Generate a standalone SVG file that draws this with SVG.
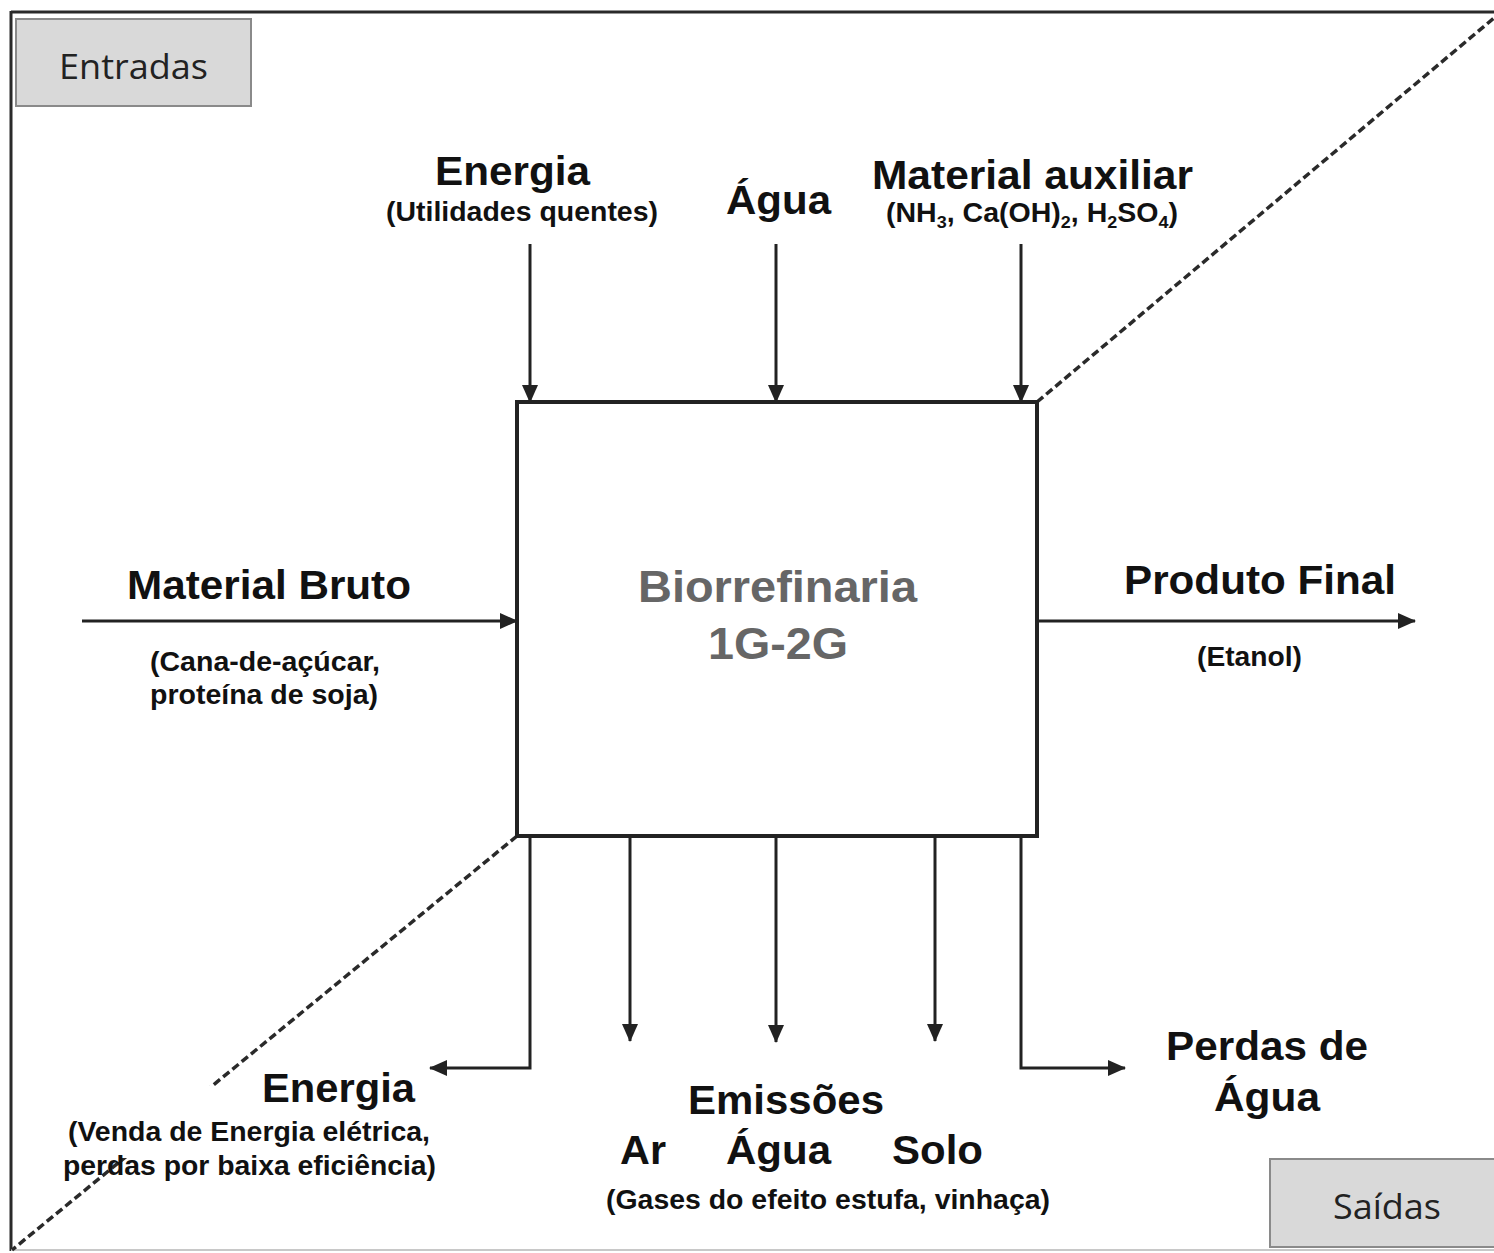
<svg xmlns="http://www.w3.org/2000/svg" width="1494" height="1253" viewBox="0 0 1494 1253">
  <style>
    text { font-family: "Liberation Sans", Arial, sans-serif; fill: #111; }
    .h { font-size: 41px; font-weight: bold; text-anchor: middle; }
    .s { font-size: 27px; font-weight: bold; text-anchor: middle; }
    .tag { font-family: "Open Sans", "Noto Sans", sans-serif; font-size: 34px; text-anchor: middle; fill: #222; }
    .tagbox { fill: #d9d9d9; stroke: #8a8a8a; stroke-width: 2; }
    .conn { fill: none; stroke: #222; stroke-width: 3; }
    .dash { fill: none; stroke: #2a2a2a; stroke-width: 3.5; stroke-dasharray: 8 4; }
  </style>
  <defs>
    <marker id="ah" markerUnits="userSpaceOnUse" markerWidth="18" markerHeight="16" refX="17" refY="8" orient="auto">
      <path d="M0,0 L18,8 L0,16 Z" fill="#222"/>
    </marker>
  </defs>
  <rect x="0" y="0" width="1494" height="1253" fill="#fff"/>

  <!-- outer frame -->
  <g id="frame">
    <line x1="11" y1="12" x2="1494" y2="12" stroke="#2a2a2a" stroke-width="3"/>
    <line x1="11" y1="11" x2="11" y2="1251" stroke="#2a2a2a" stroke-width="3"/>
    <line x1="11" y1="1250" x2="1494" y2="1250" stroke="#c8c8c8" stroke-width="2"/>
  </g>

  <!-- dashed diagonal -->
  <g id="diagonal">
    <line class="dash" x1="1037" y1="402" x2="1494" y2="18"/>
    <line class="dash" x1="517" y1="836" x2="12" y2="1250"/>
  </g>

  <g id="entradas">
    <rect class="tagbox" x="16" y="19" width="235" height="87"/>
    <text class="tag" x="133.5" y="79" textLength="149" lengthAdjust="spacingAndGlyphs">Entradas</text>
  </g>
  <g id="saidas">
    <rect class="tagbox" x="1270" y="1159" width="230" height="88"/>
    <text class="tag" x="1387" y="1219" textLength="108" lengthAdjust="spacingAndGlyphs">Saídas</text>
  </g>

  <!-- connectors -->
  <g id="connectors">
    <line class="conn" x1="530" y1="244" x2="530" y2="402" marker-end="url(#ah)"/>
    <line class="conn" x1="776" y1="244" x2="776" y2="402" marker-end="url(#ah)"/>
    <line class="conn" x1="1021" y1="244" x2="1021" y2="402" marker-end="url(#ah)"/>
    <line class="conn" x1="82" y1="621" x2="517" y2="621" marker-end="url(#ah)"/>
    <line class="conn" x1="1037" y1="621" x2="1415" y2="621" marker-end="url(#ah)"/>
    <path class="conn" d="M530,836 V1068 H430" marker-end="url(#ah)"/>
    <line class="conn" x1="630" y1="836" x2="630" y2="1041" marker-end="url(#ah)"/>
    <line class="conn" x1="776" y1="836" x2="776" y2="1042" marker-end="url(#ah)"/>
    <line class="conn" x1="935" y1="836" x2="935" y2="1041" marker-end="url(#ah)"/>
    <path class="conn" d="M1021,836 V1068 H1125" marker-end="url(#ah)"/>
  </g>

  <!-- central node -->
  <g id="biorrefinaria">
    <rect x="517" y="402" width="520" height="434" fill="#fff" stroke="#222" stroke-width="4"/>
    <text x="777.5" y="602" font-size="44" font-weight="bold" text-anchor="middle" style="fill:#666" textLength="279" lengthAdjust="spacingAndGlyphs">Biorrefinaria</text>
    <text x="778" y="659" font-size="44" font-weight="bold" text-anchor="middle" style="fill:#666" textLength="140" lengthAdjust="spacingAndGlyphs">1G-2G</text>
  </g>

  <g id="in-energia">
    <text class="h" x="512.5" y="185" textLength="155" lengthAdjust="spacingAndGlyphs">Energia</text>
    <text class="s" x="522" y="221" textLength="272" lengthAdjust="spacingAndGlyphs">(Utilidades quentes)</text>
  </g>
  <g id="in-agua">
    <text class="h" x="778.5" y="214" textLength="105" lengthAdjust="spacingAndGlyphs">Água</text>
  </g>
  <g id="in-material-auxiliar">
    <text class="h" x="1032.5" y="189" textLength="321" lengthAdjust="spacingAndGlyphs">Material auxiliar</text>
    <text class="s" x="1032" y="222" font-size="24" textLength="292" lengthAdjust="spacingAndGlyphs">(NH<tspan font-size="17" dy="6">3</tspan><tspan dy="-6">, Ca(OH)</tspan><tspan font-size="17" dy="6">2</tspan><tspan dy="-6">, H</tspan><tspan font-size="17" dy="6">2</tspan><tspan dy="-6">SO</tspan><tspan font-size="17" dy="6">4</tspan><tspan dy="-6">)</tspan></text>
  </g>
  <g id="in-material-bruto">
    <text class="h" x="269" y="599" textLength="284" lengthAdjust="spacingAndGlyphs">Material Bruto</text>
    <text class="s" x="265" y="671" textLength="230" lengthAdjust="spacingAndGlyphs">(Cana-de-açúcar,</text>
    <text class="s" x="264" y="704" textLength="228" lengthAdjust="spacingAndGlyphs">proteína de soja)</text>
  </g>
  <g id="out-produto-final">
    <text class="h" x="1260" y="594" textLength="272" lengthAdjust="spacingAndGlyphs">Produto Final</text>
    <text class="s" x="1249.5" y="666" textLength="105" lengthAdjust="spacingAndGlyphs">(Etanol)</text>
  </g>
  <g id="out-energia">
    <rect x="60" y="1086" width="390" height="72" fill="#fff"/>
    <text class="h" x="338.5" y="1102" textLength="153" lengthAdjust="spacingAndGlyphs">Energia</text>
    <text class="s" x="249" y="1141" textLength="362" lengthAdjust="spacingAndGlyphs">(Venda de Energia elétrica,</text>
    <text class="s" x="249.5" y="1175" textLength="373" lengthAdjust="spacingAndGlyphs">perdas por baixa eficiência)</text>
  </g>
  <g id="out-emissoes">
    <text class="h" x="786" y="1114" textLength="196" lengthAdjust="spacingAndGlyphs">Emissões</text>
    <text class="h" x="643" y="1164" textLength="46" lengthAdjust="spacingAndGlyphs">Ar</text>
    <text class="h" x="778.5" y="1164" textLength="105" lengthAdjust="spacingAndGlyphs">Água</text>
    <text class="h" x="937.5" y="1164" textLength="91" lengthAdjust="spacingAndGlyphs">Solo</text>
    <text class="s" x="828" y="1209" textLength="444" lengthAdjust="spacingAndGlyphs">(Gases do efeito estufa, vinhaça)</text>
  </g>
  <g id="out-perdas-agua">
    <text class="h" x="1267" y="1060" textLength="202" lengthAdjust="spacingAndGlyphs">Perdas de</text>
    <text class="h" x="1267" y="1111" textLength="106" lengthAdjust="spacingAndGlyphs">Água</text>
  </g>
</svg>
